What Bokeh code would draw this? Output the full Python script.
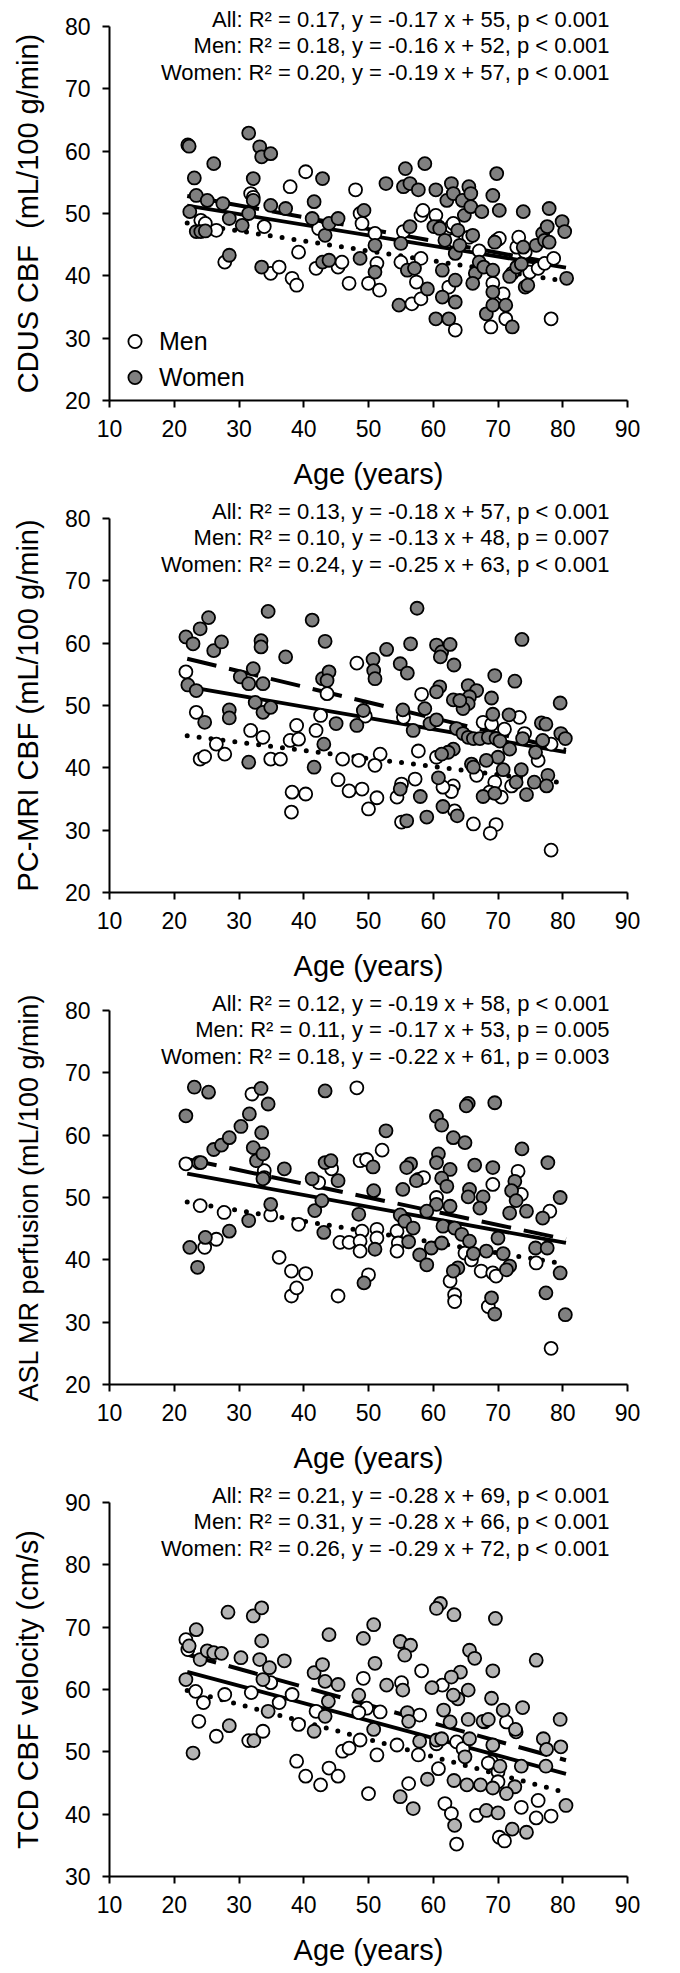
from bokeh.plotting import figure
from bokeh.models import Label, Legend, LegendItem, Range1d
from bokeh.layouts import column
from bokeh.embed import file_html
from bokeh.resources import INLINE

FONT = "Liberation Sans"

# ---------------- data (age, value) ----------------
cdus_men = [(24.1,48.9),(24.8,48.4),(26.5,47.3),(27.8,42.2),(31.8,53.2),(32.2,52.6),(33.9,47.9),(34.9,40.4),(36.2,41.4),
    (37.9,54.3),(38.2,39.6),(38.9,38.5),(39.2,43.8),(40.3,56.7),(41.9,41.2),(42.3,47.6),(45.3,41.4),(45.9,42.2),(47.0,38.8),
    (48.0,53.8),(48.7,50.0),(49.0,48.4),(50.0,38.8),(51.0,46.8),(51.3,42.0),(51.7,37.7),(55.0,42.2),(55.4,47.1),(56.7,35.5),
    (57.4,39.0),(58.1,36.3),(58.1,49.7),(58.4,50.5),(58.1,42.8),(60.4,49.7),(60.8,47.9),(62.8,47.9),(63.1,48.4),(63.4,31.3),
    (62.4,38.2),(63.1,45.7),(65.5,46.2),(67.1,44.0),(68.9,31.8),(69.2,38.8),(69.8,45.7),(70.2,46.0),(70.8,37.1),(71.2,33.1),
    (72.2,40.4),(72.9,44.6),(73.2,46.2),(74.9,40.6),(76.2,41.2),(77.2,42.0),(78.2,33.1),(78.6,42.8),(74.2,43.8)]
cdus_women = [(22.1,61.0),(22.3,60.8),(23.1,55.7),(23.4,52.9),(22.4,50.3),(23.4,47.1),(24.1,47.1),(24.8,47.2),(25.1,52.1),
    (26.1,58.0),(27.5,51.6),(28.5,49.2),(28.5,43.3),(30.5,48.1),(31.5,62.9),(32.2,55.6),(32.2,52.1),(31.5,50.0),(33.2,60.7),
    (33.5,59.1),(34.9,59.6),(33.5,41.4),(34.9,51.3),(37.2,50.8),(41.6,51.9),(41.3,49.2),(42.9,55.6),(43.3,46.5),(42.9,42.2),
    (43.9,42.5),(43.9,48.4),(45.3,49.2),(48.7,42.8),(49.3,50.5),(51.0,44.9),(51.0,40.6),(52.7,54.8),(54.7,35.3),(55.0,45.2),
    (55.7,57.2),(55.4,54.3),(56.4,54.8),(56.4,47.9),(56.0,40.9),(57.1,41.2),(57.7,53.8),(58.7,58.0),(59.1,37.9),(60.4,53.8),
    (60.1,47.9),(60.4,33.1),(61.0,47.6),(61.4,40.9),(61.4,36.6),(61.8,45.7),(62.1,52.1),(62.4,33.1),(62.8,54.8),(63.1,53.2),
    (63.4,35.8),(63.4,39.3),(63.4,43.6),(63.8,47.3),(64.1,44.9),(64.5,52.1),(64.8,49.7),(65.5,54.3),(65.8,53.2),(65.8,51.1),
    (66.1,46.5),(66.5,40.4),(66.1,38.8),(67.5,50.3),(67.1,42.2),(67.8,41.4),(68.2,33.9),(69.2,52.9),(69.5,45.4),(69.2,37.4),
    (69.2,35.3),(69.8,56.4),(70.2,50.5),(69.2,40.9),(71.2,35.3),(72.2,31.8),(71.8,39.9),(72.9,41.4),(73.9,44.6),(73.9,50.3),
    (74.2,38.2),(74.6,38.5),(75.9,44.9),(76.9,46.8),(77.2,45.7),(77.6,47.9),(77.9,45.4),(77.9,50.8),(79.9,48.7),(80.3,47.1),
    (80.6,39.6),(73.6,41.9)]

pcmri_men = [(21.8,55.4),(23.4,48.9),(24.0,41.4),(24.7,41.8),(26.5,43.8),(27.8,42.2),(31.8,46.0),(33.7,44.9),(34.9,41.4),
    (36.4,41.4),(37.9,44.4),(38.9,46.8),(39.2,44.6),(38.2,36.1),(38.1,32.9),(40.3,35.8),(41.9,46.0),(42.6,48.4),(43.6,51.9),
    (45.3,38.1),(46.0,41.4),(47.0,36.3),(48.2,56.8),(48.5,41.2),(49.0,36.6),(49.5,48.3),(58.2,51.8),(55.4,48.1),(67.7,47.3),
    (69.0,47.0),(71.0,46.2),(73.3,48.1),(74.1,45.5),(78.2,43.8),(76.2,41.2),(57.7,42.7),(60.5,41.7),(51.8,42.2),(51.0,40.4),
    (57.2,38.2),(55.1,37.4),(54.4,35.3),(63.1,37.1),(62.8,36.2),(61.5,36.9),(66.7,38.8),(69.5,37.7),(72.1,37.1),(70.5,35.3),
    (68.7,36.1),(50.0,33.4),(51.3,35.2),(63.3,33.1),(55.1,31.3),(66.2,31.0),(69.7,30.9),(68.8,29.5),(78.2,26.8)]
pcmri_women = [(21.8,61.0),(22.9,59.9),(24.0,62.3),(25.3,64.1),(26.1,58.8),(27.3,60.2),(22.1,53.3),(23.4,52.4),(24.7,47.3),
    (28.5,49.3),(28.5,48.0),(30.2,54.6),(31.5,53.5),(32.2,55.9),(32.5,50.5),(33.4,60.4),(33.4,59.4),(33.7,53.5),(33.7,48.9),
    (34.9,49.7),(34.5,65.1),(37.2,57.8),(31.5,40.9),(41.3,63.7),(43.3,60.3),(42.9,54.3),(43.9,55.4),(43.6,54.0),(43.1,43.8),
    (41.6,40.1),(45.0,47.1),(57.5,65.6),(56.5,59.9),(52.8,59.0),(50.7,57.4),(50.8,55.6),(51.0,54.3),(54.9,56.7),(56.0,55.2),
    (60.5,59.7),(61.3,58.6),(62.6,59.8),(61.1,57.8),(63.2,56.5),(73.7,60.6),(69.5,54.8),(72.6,53.9),(79.6,50.4),(61.0,53.0),
    (60.5,52.2),(65.4,53.2),(66.7,52.4),(65.6,51.4),(65.4,50.3),(64.6,49.5),(63.1,50.9),(64.1,50.8),(69.0,51.2),(55.3,49.3),
    (49.2,49.2),(48.2,46.8),(58.7,49.5),(59.5,47.1),(60.5,47.7),(69.2,48.6),(71.7,48.5),(76.7,47.2),(77.4,47.0),(79.7,45.5),
    (80.4,44.7),(56.9,46.0),(63.6,46.3),(64.6,45.5),(65.4,44.9),(66.2,44.7),(67.2,44.7),(68.5,44.9),(69.7,44.7),(70.3,44.3),
    (71.8,43.0),(70.0,41.7),(73.8,44.7),(76.9,44.4),(75.8,42.5),(63.1,43.0),(62.3,42.5),(61.3,42.2),(68.2,41.2),(65.9,40.6),
    (66.2,40.1),(60.8,38.4),(70.8,39.7),(73.6,39.7),(72.8,37.7),(75.6,37.7),(77.7,38.8),(77.5,37.1),(54.9,36.6),(58.0,35.4),
    (67.7,35.4),(69.5,35.9),(74.4,35.7),(61.5,33.8),(63.7,32.3),(59.0,32.1),(55.9,31.5)]

asl_men = [(21.8,55.4),(23.8,55.6),(24.0,48.7),(24.7,42.0),(26.5,43.3),(27.7,47.6),(32.0,66.6),(33.9,54.3),(33.9,53.2),
    (34.9,47.2),(36.2,40.4),(38.1,38.2),(38.1,34.2),(38.9,35.5),(39.2,45.7),(40.3,37.8),(42.3,52.4),(44.3,54.6),(45.3,34.2),
    (45.6,42.8),(47.0,42.8),(48.2,67.6),(52.1,57.6),(48.7,55.9),(49.7,56.1),(57.7,52.9),(58.5,53.2),(73.1,54.2),(73.6,50.5),
    (69.2,52.1),(60.5,50.0),(78.0,47.8),(49.0,44.6),(51.3,44.9),(48.7,43.0),(51.3,43.5),(48.7,41.4),(54.4,44.6),(54.6,42.7),
    (54.4,41.4),(64.9,41.1),(65.9,40.0),(67.4,38.2),(69.2,37.9),(69.7,37.4),(62.6,36.6),(63.3,34.4),(63.3,33.3),(68.5,32.5),
    (75.9,39.5),(50.0,37.6),(78.2,25.8)]
asl_women = [(21.8,63.1),(23.1,67.7),(25.3,66.9),(22.4,42.0),(23.6,38.8),(24.8,43.6),(24.1,55.6),(26.1,57.7),(27.3,58.4),
    (28.5,59.6),(28.5,44.6),(30.3,61.4),(31.6,63.4),(33.4,67.5),(33.5,60.4),(32.2,58.0),(32.7,55.9),(33.7,57.0),(33.7,53.0),
    (31.5,46.3),(34.5,65.0),(34.9,48.9),(37.0,54.6),(41.3,53.0),(43.3,55.6),(44.2,55.9),(41.7,47.9),(42.8,49.5),(43.1,44.4),
    (43.3,67.1),(45.3,52.7),(65.4,65.1),(65.1,64.7),(69.5,65.2),(60.5,63.0),(61.3,61.6),(52.7,60.7),(63.1,59.6),(64.9,58.8),
    (73.7,57.8),(77.7,55.6),(60.8,57.0),(60.5,55.6),(62.6,54.5),(56.5,55.4),(55.9,54.8),(50.7,54.9),(66.4,55.2),(69.2,54.8),
    (57.4,52.7),(61.3,53.1),(62.1,51.8),(50.8,51.1),(55.3,51.3),(65.6,51.3),(65.4,50.1),(67.7,50.1),(72.6,52.6),(72.1,51.1),
    (72.8,49.5),(79.6,50.0),(60.5,48.9),(62.6,48.6),(67.2,48.3),(59.0,47.8),(48.5,47.3),(71.8,47.5),(74.4,47.8),(76.9,46.7),
    (54.9,47.2),(55.6,46.2),(56.9,45.1),(61.5,45.4),(63.3,45.1),(64.4,44.1),(65.6,43.0),(70.0,43.5),(51.0,41.7),(56.2,42.9),
    (59.7,41.9),(61.3,42.7),(57.9,40.8),(59.0,39.2),(66.2,41.0),(68.2,41.4),(70.8,41.0),(75.8,41.9),(77.6,41.9),(63.8,38.7),
    (63.1,38.2),(71.8,39.0),(71.3,38.4),(79.6,37.9),(77.4,34.7),(69.0,33.9),(69.5,31.3),(80.4,31.2),(49.3,36.3)]

tcd_men = [(21.8,68.0),(22.1,66.4),(23.3,59.7),(23.8,54.9),(24.5,57.9),(26.5,52.5),(27.8,59.2),(31.5,51.8),(31.9,59.5),
    (33.7,53.3),(34.9,61.1),(36.2,57.9),(38.2,59.2),(38.9,48.5),(40.3,46.1),(39.2,54.4),(41.9,56.5),(42.6,44.7),(43.9,47.4),
    (45.3,46.1),(46.0,50.1),(47.0,50.6),(49.2,61.8),(58.2,63.0),(61.4,60.7),(55.1,61.1),(51.8,56.4),(49.7,57.0),(48.5,56.3),
    (57.9,55.9),(67.9,54.8),(71.3,54.8),(72.8,53.2),(48.7,51.9),(51.3,49.5),(54.4,51.1),(57.7,49.5),(60.5,51.3),(60.8,47.3),
    (63.6,51.6),(64.6,50.5),(69.0,48.4),(70.0,46.8),(70.0,45.2),(56.2,44.9),(50.0,43.3),(61.8,41.7),(62.8,40.1),(66.7,39.8),
    (76.2,42.2),(73.6,41.1),(75.9,39.4),(78.2,39.7),(70.2,36.3),(71.0,35.7),(63.6,35.2),(68.5,48.2)]
tcd_women = [(21.8,61.6),(22.3,67.0),(23.4,69.6),(22.9,49.8),(24.0,64.8),(25.1,66.2),(26.1,65.9),(27.3,65.8),(28.3,72.4),
    (28.5,54.2),(30.3,65.1),(32.2,71.8),(33.5,73.1),(33.5,67.8),(33.2,64.8),(33.7,61.6),(32.3,51.8),(34.7,63.5),(34.5,56.5),
    (37.0,64.6),(41.6,62.7),(42.9,64.0),(43.3,61.3),(41.6,53.3),(43.3,55.7),(43.9,68.8),(43.8,58.1),(45.3,60.8),(61.1,73.8),
    (60.5,73.0),(63.2,72.0),(69.6,71.4),(50.8,70.4),(49.2,68.2),(54.9,67.7),(56.5,67.1),(55.6,65.5),(51.0,64.2),(65.6,66.3),
    (66.4,65.0),(69.2,63.0),(75.9,64.7),(64.2,62.8),(62.8,62.0),(52.8,60.7),(55.3,59.9),(59.8,60.3),(65.4,59.9),(63.8,58.5),
    (63.1,59.1),(69.0,58.6),(70.8,56.7),(73.8,57.1),(48.5,59.1),(61.6,56.7),(56.0,56.3),(56.2,54.9),(62.6,54.8),(65.4,55.2),
    (67.7,54.9),(68.5,55.2),(72.7,53.6),(77.0,52.1),(77.5,50.4),(79.7,50.8),(79.6,55.2),(50.8,53.6),(57.9,51.7),(60.5,51.9),
    (61.3,52.1),(65.6,52.1),(69.2,51.1),(64.9,49.2),(70.3,47.7),(73.6,47.7),(77.4,47.7),(59.1,45.6),(63.2,45.4),(65.2,44.7),
    (67.3,44.7),(69.2,44.2),(72.6,44.4),(71.3,43.3),(54.9,42.8),(56.9,40.9),(68.2,40.6),(70.0,40.2),(80.5,41.4),(63.3,38.2),
    (72.2,37.6),(74.4,37.1)]

# regression fits: [All, Men, Women] -> (R2, slope, intercept, p-text)
cdus_fits = [(0.17, -0.17, 55, "p < 0.001"), (0.18, -0.16, 52, "p < 0.001"), (0.20, -0.19, 57, "p < 0.001")]
pcmri_fits = [(0.13, -0.18, 57, "p < 0.001"), (0.10, -0.13, 48, "p = 0.007"), (0.24, -0.25, 63, "p < 0.001")]
asl_fits = [(0.12, -0.19, 58, "p < 0.001"), (0.11, -0.17, 53, "p = 0.005"), (0.18, -0.22, 61, "p = 0.003")]
tcd_fits = [(0.21, -0.28, 69, "p < 0.001"), (0.31, -0.28, 66, "p < 0.001"), (0.26, -0.29, 72, "p < 0.001")]
group_names = ["All", "Men", "Women"]
fit_age_span = [22, 80.5]

x_ticks = [10, 20, 30, 40, 50, 60, 70, 80, 90]
y_ticks_a = [20, 30, 40, 50, 60, 70, 80]
y_ticks_b = [30, 40, 50, 60, 70, 80, 90]

panels = [
    dict(ylabel="CDUS CBF\u00a0 (mL/100 g/min)", men=cdus_men, women=cdus_women, fits=cdus_fits,
         yticks=y_ticks_a, gray="#808080", legend=True, ylabel_size="29px"),
    dict(ylabel="PC-MRI CBF (mL/100 g/min)", men=pcmri_men, women=pcmri_women, fits=pcmri_fits,
         yticks=y_ticks_a, gray="#808080", legend=False, ylabel_size="29px"),
    dict(ylabel="ASL MR perfusion (mL/100 g/min)", men=asl_men, women=asl_women, fits=asl_fits,
         yticks=y_ticks_a, gray="#808080", legend=False, ylabel_size="27px"),
    dict(ylabel="TCD CBF velocity (cm/s)", men=tcd_men, women=tcd_women, fits=tcd_fits,
         yticks=y_ticks_b, gray="#b4b4b4", legend=False, ylabel_size="29px"),
]

line_styles = [
    dict(line_dash="solid", line_width=3.8, line_cap="butt"),
    dict(line_dash="0 12", line_width=5, line_cap="round"),
    dict(line_dash="30 13", line_width=4, line_cap="butt"),
]

def fit_text(name, fit):
    r2, slope, icpt, ptxt = fit
    return f"{name}: R\u00b2 = {r2:.2f}, y = {slope:.2f} x + {icpt}, {ptxt}"

figs = []
for pan in panels:
    ymin, ymax = pan["yticks"][0], pan["yticks"][-1]
    unit_px = 374 / (ymax - ymin)
    p = figure(frame_width=518, frame_height=374, min_border_left=109, min_border_right=37,
               min_border_top=26, min_border_bottom=88,
               x_range=Range1d(10, 90), y_range=Range1d(ymin, ymax),
               title=fit_text(group_names[0], pan["fits"][0]),
               output_backend="svg", toolbar_location=None)
    p.title.align = "right"
    p.title.offset = 18
    p.title.standoff = -11
    p.title.text_font = FONT
    p.title.text_font_size = "22px"
    p.title.text_font_style = "normal"
    p.title.text_color = "black"
    p.title.vertical_align = "bottom"
    p.outline_line_color = None
    p.xgrid.visible = False
    p.ygrid.visible = False
    p.xaxis.ticker = x_ticks
    p.yaxis.ticker = pan["yticks"]
    for ax in (p.xaxis, p.yaxis):
        ax.axis_line_width = 2
        ax.axis_line_color = "black"
        ax.major_tick_line_width = 2
        ax.major_tick_line_color = "black"
        ax.major_tick_out = 7
        ax.major_tick_in = 0
        ax.minor_tick_line_color = None
        ax.major_label_text_font = FONT
        ax.major_label_text_font_size = "23px"
        ax.major_label_text_color = "black"
        ax.major_label_standoff = 12
        ax.axis_label_text_font = FONT
        ax.axis_label_text_font_size = "29px"
        ax.axis_label_text_font_style = "normal"
        ax.axis_label_text_color = "black"
        ax.axis_label_standoff = 18
    p.yaxis.axis_label_text_font_size = pan["ylabel_size"]
    p.xaxis.axis_label = "Age (years)"
    p.yaxis.axis_label = pan["ylabel"]

    # regression lines
    for fit, st in zip(pan["fits"], line_styles):
        r2, slope, icpt, ptxt = fit
        xs = fit_age_span
        ys = [slope * a + icpt for a in xs]
        p.line(xs, ys, line_color="black", **st)

    mx = [a for a, v in pan["men"]]
    my = [v for a, v in pan["men"]]
    wx = [a for a, v in pan["women"]]
    wy = [v for a, v in pan["women"]]
    r_men = p.scatter(mx, my, size=13, marker="circle", fill_color="white",
                      line_color="black", line_width=1.8)
    r_women = p.scatter(wx, wy, size=13, marker="circle", fill_color=pan["gray"],
                        line_color="black", line_width=1.8)

    # fit annotation texts for Men / Women (pixel offsets below the top of the axis)
    offsets_px = [19, 46]
    for fit, name, off in zip(pan["fits"][1:], group_names[1:], offsets_px):
        p.add_layout(Label(x=87.2, y=ymax - off / unit_px, text=fit_text(name, fit),
                           text_align="right", text_baseline="middle", text_font=FONT,
                           text_font_size="22px", text_color="black"))

    if pan["legend"]:
        leg = Legend(items=[LegendItem(label="Men", renderers=[r_men]),
                            LegendItem(label="Women", renderers=[r_women])],
                     location=(9, 5), orientation="vertical",
                     glyph_width=33, glyph_height=36, label_height=36,
                     spacing=0, padding=0, margin=0, label_standoff=8,
                     label_text_font=FONT, label_text_font_size="25px",
                     label_text_color="black", label_text_baseline="middle",
                     background_fill_alpha=0, border_line_alpha=0)
        p.add_layout(leg)
    figs.append(p)

layout = column(*figs, spacing=0)
open("out.html", "w").write(file_html(layout, INLINE))
